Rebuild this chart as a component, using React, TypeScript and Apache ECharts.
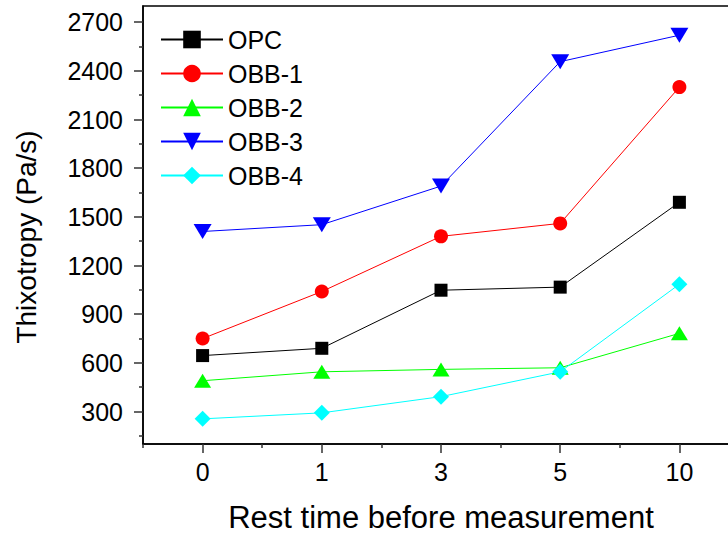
import React, { useEffect, useRef } from "react";
import * as echarts from "echarts";

const categories = ["0", "1", "3", "5", "10"];
const opc = [645, 690, 1048, 1067, 1590];
const obb1 = [750, 1040, 1380, 1460, 2300];
const obb2 = [490, 545, 560, 570, 782];
const obb3 = [1410, 1452, 1690, 2457, 2620];
const obb4 = [255, 292, 392, 545, 1085];
const majorTicks = [300, 600, 900, 1200, 1500, 1800, 2100, 2400, 2700];
const minorTicks = [150, 450, 750, 1050, 1350, 1650, 1950, 2250, 2550];

const FONT = "'Liberation Sans', Arial, sans-serif";

export default function App() {
  const ref = useRef<HTMLDivElement>(null);
  useEffect(() => {
    if (!ref.current) return;
    const chart = echarts.init(ref.current, null, { renderer: "svg" });
    const axisLine = { show: true, lineStyle: { color: "#000", width: 1.5 } };
    const tickStyle = { color: "#333", width: 1.5 };
    const mk = (name: string, data: number[], color: string, symbol: string, size: any, rotate = 0) => ({
      name,
      type: "line",
      data,
      symbol,
      symbolSize: size,
      symbolRotate: rotate,
      lineStyle: { color, width: 1 },
      itemStyle: { color },
      xAxisIndex: 0,
      yAxisIndex: 0,
    });
    chart.setOption({
      animation: false,
      backgroundColor: "#fff",
      textStyle: { fontFamily: FONT, color: "#000" },
      grid: {
        left: 143,
        top: 6,
        width: 596,
        height: 438,
        outerBoundsMode: "none",
        containLabel: false,
        show: true,
        borderColor: "#000",
        borderWidth: 1.5,
        backgroundColor: "transparent",
      },
      legend: {
        left: 160,
        top: 27,
        padding: 0,
        orient: "vertical",
        itemWidth: 62,
        itemHeight: 22,
        itemGap: 9,
        textStyle: { fontFamily: FONT, fontSize: 25, color: "#000" },
        data: ["OPC", "OBB-1", "OBB-2", "OBB-3", "OBB-4"],
      },
      xAxis: [
        {
          type: "category",
          position: "bottom",
          data: categories,
          boundaryGap: true,
          axisLine,
          axisTick: { show: true, alignWithLabel: true, length: 9, lineStyle: tickStyle },
          axisLabel: { fontFamily: FONT, fontSize: 25, color: "#000", margin: 15 },
          name: "Rest time before measurement",
          nameLocation: "middle",
          nameGap: 58,
          nameTextStyle: { fontFamily: FONT, fontSize: 31, color: "#000" },
          splitLine: { show: false },
        },
        {
          type: "category",
          position: "bottom",
          data: categories,
          boundaryGap: true,
          axisLine: { show: false },
          axisTick: { show: true, length: 4, lineStyle: tickStyle },
          axisLabel: { show: false },
          splitLine: { show: false },
        },
      ],
      yAxis: [
        {
          type: "value",
          position: "left",
          min: 100,
          max: 2800,
          axisLine,
          axisTick: { show: true, length: 9, lineStyle: tickStyle, customValues: majorTicks },
          axisLabel: {
            fontFamily: FONT,
            fontSize: 25,
            color: "#000",
            margin: 20,
            customValues: majorTicks,
            formatter: (v: number) => String(v),
          },
          name: "Thixotropy (Pa/s)",
          nameLocation: "middle",
          nameGap: 103,
          nameTextStyle: { fontFamily: FONT, fontSize: 28, color: "#000", padding: [0, 24, 0, 0] },
          splitLine: { show: false },
        },
        {
          type: "value",
          position: "left",
          min: 100,
          max: 2800,
          axisLine: { show: false },
          axisTick: { show: true, length: 4, lineStyle: tickStyle, customValues: minorTicks },
          axisLabel: { show: false },
          splitLine: { show: false },
        },
      ],
      series: [
        mk("OPC", opc, "#000000", "rect", 13),
        mk("OBB-1", obb1, "#ff0000", "circle", 14),
        mk("OBB-2", obb2, "#00ff00", "triangle", [17, 14]),
        mk("OBB-3", obb3, "#0000ff", "triangle", [18, 15], 180),
        mk("OBB-4", obb4, "#00ffff", "diamond", 16),
      ],
    });
    return () => chart.dispose();
  }, []);
  return (
    <div
      ref={ref}
      style={{ position: "absolute", left: 0, top: 0, width: 728, height: 537, overflow: "hidden" }}
    />
  );
}
